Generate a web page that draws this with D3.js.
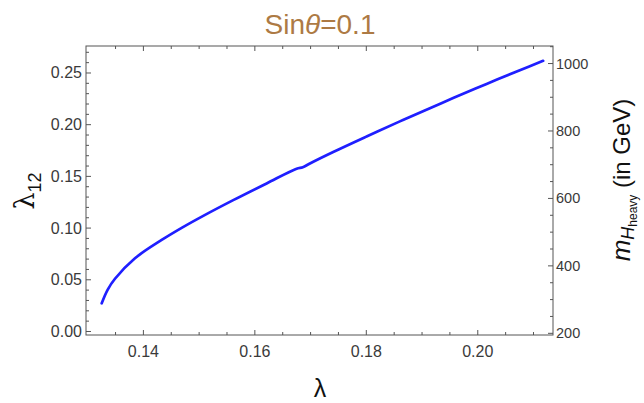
<!DOCTYPE html>
<html><head><meta charset="utf-8">
<script src="https://cdn.jsdelivr.net/npm/d3@7"></script>
<style>body{margin:0;background:#fff;} text{font-family:"Liberation Sans",Arial,sans-serif;}</style>
</head><body><svg id="c" width="644" height="403"></svg>
<script>
const lambdaVals = [0.13252,0.13360,0.13490,0.13849,0.14328,0.14687,0.15074,0.15612,0.16211,0.16749,0.16860,0.16988,0.17406,0.18005,0.18602,0.19141,0.19558,0.20158,0.20755,0.21173];
const lambda12Vals = [0.0273,0.0405,0.0510,0.0708,0.0885,0.1002,0.1118,0.1270,0.1432,0.1574,0.1588,0.1625,0.1736,0.1886,0.2032,0.2160,0.2257,0.2394,0.2527,0.2618];
const xTicks = [0.14,0.16,0.18,0.20];
const yTicks = [0.00,0.05,0.10,0.15,0.20,0.25];
const rTicks = [200,400,600,800,1000];

const svg = d3.select("#c");
const L=86,R=553,T=46,B=335;
const x = d3.scaleLinear().domain([0.1297,0.2135]).range([L,R]);
const y = d3.scaleLinear().domain([-0.0034,0.2761]).range([B,T]);
const yr = d3.scaleLinear().domain([195,1052]).range([B,T]);
const axc="#555", lab="#3a3a3a";

svg.append("rect").attr("x",L).attr("y",T).attr("width",R-L).attr("height",B-T)
  .attr("fill","none").attr("stroke",axc).attr("stroke-width",1);

const g = svg.append("g").attr("stroke",axc).attr("stroke-width",1);
d3.range(0.135,0.2131,0.005).forEach(v=>{
  const major = xTicks.some(t=>Math.abs(t-v)<1e-6);
  const len = major?5:3;
  g.append("line").attr("x1",x(v)).attr("x2",x(v)).attr("y1",B).attr("y2",B-len);
  g.append("line").attr("x1",x(v)).attr("x2",x(v)).attr("y1",T).attr("y2",T+len);
});
d3.range(0.0,0.271,0.01).forEach(v=>{
  const major = yTicks.some(t=>Math.abs(t-v)<1e-6);
  const len = major?5:3;
  g.append("line").attr("x1",L).attr("x2",L+len).attr("y1",y(v)).attr("y2",y(v));
});
d3.range(200,1051,50).forEach(v=>{
  const major = rTicks.includes(v);
  const len = major?5:3;
  g.append("line").attr("x1",R).attr("x2",R-len).attr("y1",yr(v)).attr("y2",yr(v));
});

svg.selectAll(".xt").data(xTicks).enter().append("text")
  .attr("x",d=>x(d)).attr("y",357).attr("text-anchor","middle")
  .attr("font-size",16).attr("fill",lab).text(d=>d.toFixed(2));
svg.selectAll(".yt").data(yTicks).enter().append("text")
  .attr("x",82).attr("y",d=>y(d)+5.5).attr("text-anchor","end")
  .attr("font-size",16).attr("fill",lab).text(d=>d.toFixed(2));
svg.selectAll(".rt").data(rTicks).enter().append("text")
  .attr("x",556).attr("y",d=>yr(d)+5).attr("text-anchor","start")
  .attr("font-size",14.5).attr("fill",lab).text(d=>d);

const pts = lambdaVals.map((v,i)=>[v,lambda12Vals[i]]);
svg.append("path").datum(pts)
  .attr("d",d3.line().x(d=>x(d[0])).y(d=>y(d[1])).curve(d3.curveCatmullRom.alpha(0.5)))
  .attr("fill","none").attr("stroke","#1f1fff").attr("stroke-width",2.7)
  .attr("stroke-linecap","round");

const t = svg.append("text").attr("x",320).attr("y",34).attr("text-anchor","middle")
  .attr("font-size",28).attr("fill","#ad7a44");
t.append("tspan").text("Sin");
t.append("tspan").attr("font-style","italic").text("θ");
t.append("tspan").text("=0.1");

svg.append("text").attr("x",320).attr("y",397).attr("text-anchor","middle")
  .attr("font-size",25).attr("fill","#111").attr("font-family","DejaVu Serif").text("λ");

const yl = svg.append("text").attr("transform","translate(34,191) rotate(-90)")
  .attr("text-anchor","middle").attr("font-size",27).attr("fill","#111");
yl.append("tspan").attr("font-family","DejaVu Serif").text("λ");
yl.append("tspan").attr("font-size",18).attr("dy",7).text("12");

const rl = svg.append("text").attr("transform","translate(630,180) rotate(-90)")
  .attr("text-anchor","middle").attr("font-size",24).attr("fill","#111");
rl.append("tspan").attr("font-style","italic").attr("font-size",26).text("m");
rl.append("tspan").attr("font-style","italic").attr("font-size",18).attr("dy",4).text("H");
rl.append("tspan").attr("font-size",12).attr("dy",3).text("heavy");
rl.append("tspan").attr("dy",-7).text(" (in GeV)");
</script></body></html>
